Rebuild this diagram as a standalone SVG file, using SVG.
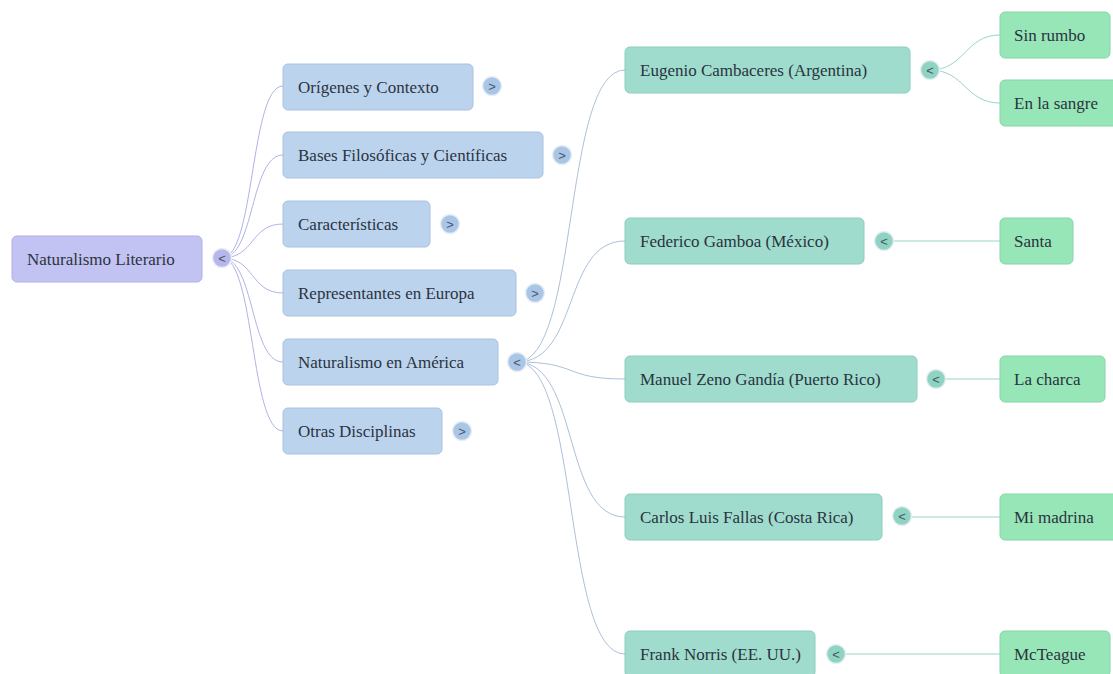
<svg xmlns="http://www.w3.org/2000/svg" width="1113" height="674" viewBox="0 0 1113 674">
<style>
text{font-family:"Liberation Serif","Times New Roman",serif;font-size:17px;fill:#2a3340;dominant-baseline:central}
.n0 rect{fill:#c3c3f3;stroke:#b0b0e6;stroke-width:1}
.n1 rect{fill:#bcd3ee;stroke:#a9c2e0;stroke-width:1}
.n2 rect{fill:#9fdccd;stroke:#8ccdbd;stroke-width:1}
.n3 rect{fill:#97e6b7;stroke:#85d6a6;stroke-width:1}
.t circle{stroke:#e8eef6;stroke-width:1.5}
.t text{font-family:"Liberation Sans",Arial,sans-serif;font-size:13px;text-anchor:middle;fill:#4a5566}
.c0 circle{fill:#b7b7ec}
.c1 circle{fill:#aac6e6}
.c2 circle{fill:#8fd3c3}
#links path{fill:none;stroke-width:1}
.l0{stroke:#b0b4e4}
.l1{stroke:#adc0da}
.l2{stroke:#9cd3c6}
</style>
<g id="links">
<path class="l0" d="M222,258 C255,258 250,86 283,86"/>
<path class="l0" d="M222,258 C255,258 250,155 283,155"/>
<path class="l0" d="M222,258 C255,258 250,224 283,224"/>
<path class="l0" d="M222,258 C255,258 250,293 283,293"/>
<path class="l0" d="M222,258 C255,258 250,362 283,362"/>
<path class="l0" d="M222,258 C255,258 250,431 283,431"/>
<path class="l1" d="M517,362 C580,362 562,70 625,70"/>
<path class="l1" d="M517,362 C580,362 562,241 625,241"/>
<path class="l1" d="M517,362 C580,362 562,379 625,379"/>
<path class="l1" d="M517,362 C580,362 562,517 625,517"/>
<path class="l1" d="M517,362 C580,362 562,654 625,654"/>
<path class="l2" d="M930,70 C965,70 965,35 1000,35"/>
<path class="l2" d="M930,70 C965,70 965,103 1000,103"/>
<path class="l2" d="M884,241 L1000,241"/>
<path class="l2" d="M936,379 L1000,379"/>
<path class="l2" d="M902,517 L1000,517"/>
<path class="l2" d="M836,654 L1000,654"/>
</g>
<g id="root" class="n0"><rect x="12" y="236" width="190" height="46" rx="5"/><text x="27" y="259">Naturalismo Literario</text></g>
<g id="root-toggle" class="t c0"><circle cx="222" cy="258" r="9.5"/><text x="222" y="258.5">&lt;</text></g>

<g id="origenes" class="n1"><rect x="283" y="64" width="190" height="46" rx="5"/><text x="298" y="87">Orígenes y Contexto</text></g>
<g id="origenes-toggle" class="t c1"><circle cx="492" cy="86" r="9.5"/><text x="492" y="86.5">&gt;</text></g>

<g id="bases" class="n1"><rect x="283" y="132" width="260" height="46" rx="5"/><text x="298" y="155">Bases Filosóficas y Científicas</text></g>
<g id="bases-toggle" class="t c1"><circle cx="562" cy="155" r="9.5"/><text x="562" y="155.5">&gt;</text></g>

<g id="caracteristicas" class="n1"><rect x="283" y="201" width="147" height="46" rx="5"/><text x="298" y="224">Características</text></g>
<g id="caracteristicas-toggle" class="t c1"><circle cx="450" cy="224" r="9.5"/><text x="450" y="224.5">&gt;</text></g>

<g id="europa" class="n1"><rect x="283" y="270" width="233" height="46" rx="5"/><text x="298" y="293">Representantes en Europa</text></g>
<g id="europa-toggle" class="t c1"><circle cx="535" cy="293" r="9.5"/><text x="535" y="293.5">&gt;</text></g>

<g id="america" class="n1"><rect x="283" y="339" width="215" height="46" rx="5"/><text x="298" y="362">Naturalismo en América</text></g>
<g id="america-toggle" class="t c1"><circle cx="517" cy="362" r="9.5"/><text x="517" y="362.5">&lt;</text></g>

<g id="otras" class="n1"><rect x="283" y="408" width="159" height="46" rx="5"/><text x="298" y="431">Otras Disciplinas</text></g>
<g id="otras-toggle" class="t c1"><circle cx="462" cy="431" r="9.5"/><text x="462" y="431.5">&gt;</text></g>

<g id="cambaceres" class="n2"><rect x="625" y="47" width="285" height="46" rx="5"/><text x="640" y="70">Eugenio Cambaceres (Argentina)</text></g>
<g id="cambaceres-toggle" class="t c2"><circle cx="930" cy="70" r="9.5"/><text x="930" y="70.5">&lt;</text></g>

<g id="gamboa" class="n2"><rect x="625" y="218" width="239" height="46" rx="5"/><text x="640" y="241">Federico Gamboa (México)</text></g>
<g id="gamboa-toggle" class="t c2"><circle cx="884" cy="241" r="9.5"/><text x="884" y="241.5">&lt;</text></g>

<g id="zeno" class="n2"><rect x="625" y="356" width="292" height="46" rx="5"/><text x="640" y="379">Manuel Zeno Gandía (Puerto Rico)</text></g>
<g id="zeno-toggle" class="t c2"><circle cx="936" cy="379" r="9.5"/><text x="936" y="379.5">&lt;</text></g>

<g id="fallas" class="n2"><rect x="625" y="494" width="257" height="46" rx="5"/><text x="640" y="517">Carlos Luis Fallas (Costa Rica)</text></g>
<g id="fallas-toggle" class="t c2"><circle cx="902" cy="516" r="9.5"/><text x="902" y="516.5">&lt;</text></g>

<g id="norris" class="n2"><rect x="625" y="631" width="190" height="46" rx="5"/><text x="640" y="654">Frank Norris (EE. UU.)</text></g>
<g id="norris-toggle" class="t c2"><circle cx="836" cy="654" r="9.5"/><text x="836" y="654.5">&lt;</text></g>

<g id="sinrumbo" class="n3"><rect x="1000" y="12" width="110" height="46" rx="5"/><text x="1014" y="35">Sin rumbo</text></g>
<g id="sangre" class="n3"><rect x="1000" y="80" width="118" height="46" rx="5"/><text x="1014" y="103">En la sangre</text></g>
<g id="santa" class="n3"><rect x="1000" y="218" width="73" height="46" rx="5"/><text x="1014" y="241">Santa</text></g>
<g id="charca" class="n3"><rect x="1000" y="356" width="105" height="46" rx="5"/><text x="1014" y="379">La charca</text></g>
<g id="madrina" class="n3"><rect x="1000" y="494" width="118" height="46" rx="5"/><text x="1014" y="517">Mi madrina</text></g>
<g id="mcteague" class="n3"><rect x="1000" y="631" width="110" height="46" rx="5"/><text x="1014" y="654">McTeague</text></g>
</svg>
